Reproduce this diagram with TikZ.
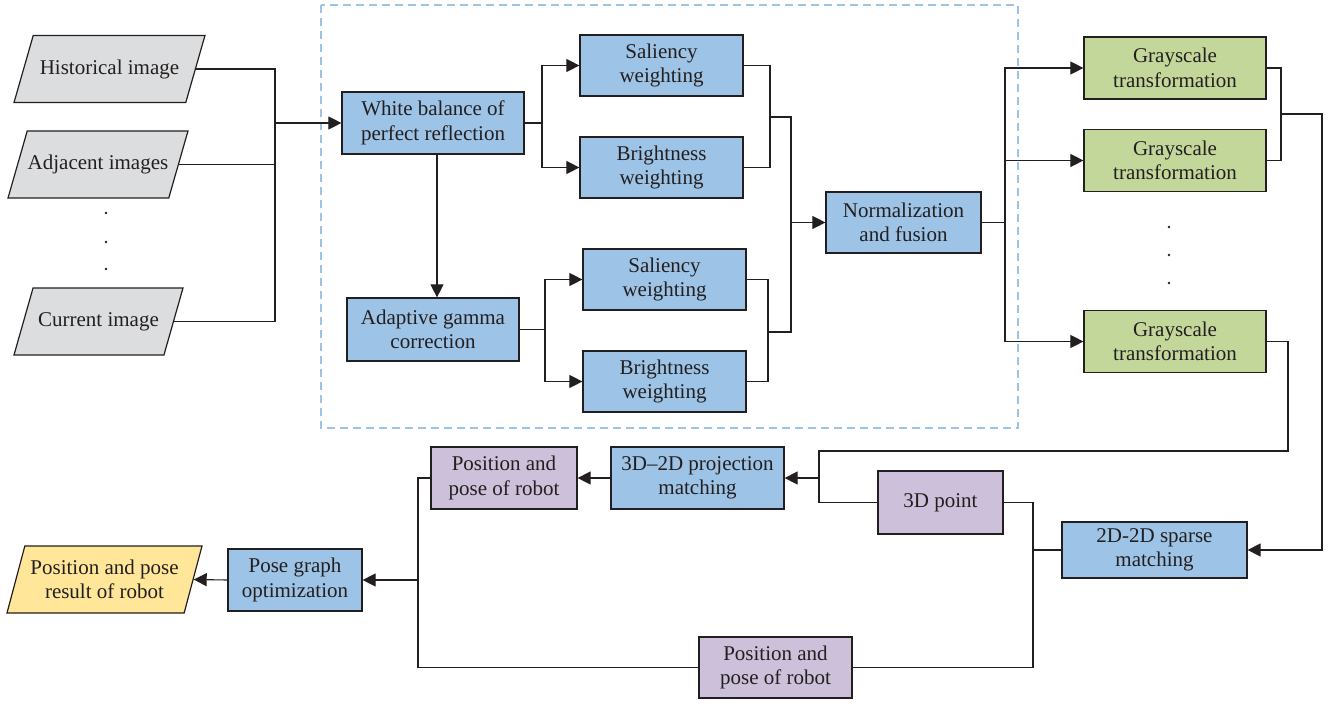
\documentclass[tikz,border=0pt]{standalone}
\usepackage{fontspec}
\setmainfont{Liberation Serif}
\usetikzlibrary{arrows.meta,shapes.geometric}
\definecolor{inkc}{HTML}{231F20}
\definecolor{bluefill}{HTML}{9DC3E6}
\definecolor{greenfill}{HTML}{C4D79B}
\definecolor{purplefill}{HTML}{CCC0DA}
\definecolor{grayfill}{HTML}{DCDDDE}
\definecolor{yellowfill}{HTML}{FFE699}

\begin{document}
\begin{tikzpicture}[x=1pt, y=-1pt,
	box/.style={draw=inkc, line width=1.2pt, inner sep=0pt, align=center, text=inkc,
		font=\fontsize{21}{24.5}\selectfont, minimum height=62pt},
	proc/.style={box, fill=bluefill},
	gproc/.style={box, fill=greenfill, minimum width=182pt},
	pproc/.style={box, fill=purplefill},
	io/.style={box, trapezium, trapezium left angle=74, trapezium right angle=106,
		trapezium stretches body, minimum height=67pt, inner ysep=24pt},
	arr/.style={draw=inkc, line width=1.1pt, -{Triangle[length=13pt, width=13pt]}},
	line/.style={draw=inkc, line width=1.1pt}]
	\useasboundingbox (0,0) rectangle (1340,703);
	
	% Dashed frame
	\draw[bluefill, line width=1.2pt, dash pattern=on 8pt off 5pt] (321,5) rectangle (1018,428);
	
	% Nodes
	\node[io, fill=grayfill, minimum width=191pt] (hist) at (109.5,69) {Historical image};
	\node[io, fill=grayfill, minimum width=180pt] (adj) at (98,164.5) {Adjacent images};
	\node[io, fill=grayfill, minimum width=169pt] (cur) at (98.5,321.5) {Current image};
	\node[io, fill=yellowfill, minimum width=195pt, inner ysep=11.5pt] (result) at (104.5,579.5) {Position and pose\\result of robot};
	
	\node[proc, minimum width=182pt] (wb) at (433,123) {White balance of\\perfect reflection};
	\node[proc, minimum width=172pt, minimum height=63pt] (agc) at (433,329.5) {Adaptive gamma\\correction};
	\node[proc, minimum width=163pt, minimum height=61pt] (sal1) at (661.5,65.5) {Saliency\\weighting};
	\node[proc, minimum width=163pt, minimum height=61pt] (bri1) at (661.5,167.5) {Brightness\\weighting};
	\node[proc, minimum width=163pt, minimum height=61pt] (sal2) at (664.5,279.5) {Saliency\\weighting};
	\node[proc, minimum width=163pt, minimum height=61pt] (bri2) at (664.5,381.5) {Brightness\\weighting};
	\node[proc, minimum width=155pt, minimum height=61pt] (norm) at (903.5,222.5) {Normalization\\and fusion};
	
	\node[gproc] (g1) at (1175,68) {Grayscale\\transformation};
	\node[gproc] (g2) at (1175,160.5) {Grayscale\\transformation};
	\node[gproc] (g3) at (1175,341.5) {Grayscale\\transformation};
	
	\node[pproc, minimum width=146pt] (pos1) at (504,478) {Position and\\pose of robot};
	\node[proc, minimum width=173pt] (proj) at (697.5,478) {3D--2D projection\\matching};
	\node[pproc, minimum width=125pt, minimum height=63pt] (pt) at (940.5,502.5) {3D point};
	\node[proc, minimum width=185pt, minimum height=56pt] (sparse) at (1154.5,550) {2D-2D sparse\\matching};
	\node[pproc, minimum width=153pt, minimum height=61pt] (pos2) at (775.5,667.5) {Position and\\pose of robot};
	\node[proc, minimum width=134pt] (pgo) at (295,580) {Pose graph\\optimization};
	
	% Dots
	\foreach \y in {213,242,269} \fill[inkc] (106,\y) circle (1.4);
	\foreach \y in {227,255,283} \fill[inkc] (1169,\y) circle (1.4);
	
	% Junctions
	\coordinate (b1) at (275,123);
	\coordinate (s1) at (542,123);
	\coordinate (s2) at (545,329.5);
	\coordinate (m1) at (770,117);
	\coordinate (m2) at (768,332);
	\coordinate (m3) at (791,117);
	\coordinate (m4) at (791,332);
	\coordinate (s3) at (1005,222.5);
	\coordinate (m5) at (1281,114);
	\coordinate (r1) at (1322,550);
	\coordinate (r2) at (1288,451);
	\coordinate (j1) at (819,451);
	\coordinate (j2) at (1033,550);
	\coordinate (j3) at (418,580);
	
	% Edges
	\draw[line] (hist.east) -| (b1) |- (cur.east);
	\draw[line] (adj.east) -- (adj.east -| b1);
	\draw[arr] (b1) -- (wb.west);
	\draw[arr] ([xshift=4pt]wb.south) -- ([xshift=4pt]agc.north);
	\draw[line] (wb.east) -- (s1);
	\draw[arr] (s1) |- (sal1.west);
	\draw[arr] (s1) |- (bri1.west);
	\draw[line] (agc.east) -- (s2);
	\draw[arr] (s2) |- (sal2.west);
	\draw[arr] (s2) |- (bri2.west);
	\draw[line] (sal1.east) -| (m1) |- (bri1.east);
	\draw[line] (sal2.east) -| (m2) |- (bri2.east);
	\draw[line] (m1) -- (m3) -- (m4) -- (m2);
	\draw[arr] (m3 |- norm.west) -- (norm.west);
	\draw[line] (norm.east) -- (s3);
	\draw[arr] (s3) |- (g1.west);
	\draw[arr] (s3) |- (g2.west);
	\draw[arr] (s3) |- (g3.west);
	\draw[line] (g1.east) -| (m5) |- (g2.east);
	\draw[arr] (m5) -| (r1) -- (sparse.east);
	\draw[line] (g3.east) -| (r2) -- (j1) |- (pt.west);
	\draw[arr] (j1 |- proj.east) -- (proj.east);
	\draw[arr] (proj.west) -- (pos1.east);
	\draw[line] (sparse.west) -- (j2);
	\draw[line] (pt.east) -| (j2) |- (pos2.east);
	\draw[line] (pos1.west) -| (j3) |- (pos2.west);
	\draw[arr] (j3) -- (pgo.east);
	\draw[arr] (pgo.west) -- (result.east);
\end{tikzpicture}
\end{document}
